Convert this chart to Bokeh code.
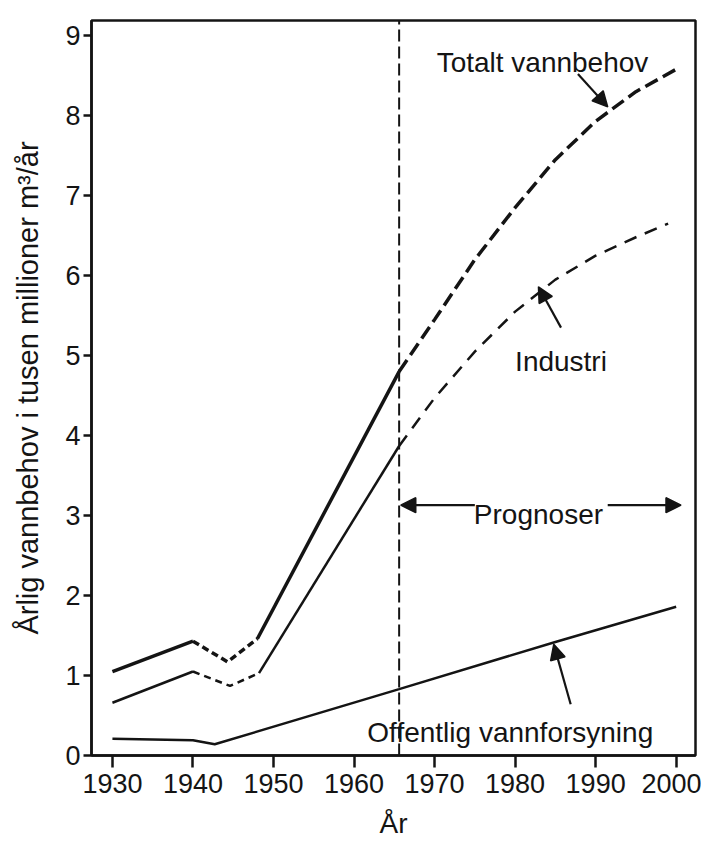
from bokeh.plotting import figure
from bokeh.models import Range1d, FixedTicker, Label, Arrow, NormalHead
from bokeh.embed import file_html
from bokeh.resources import INLINE

# ---------------- data ----------------
x_ticks = [1930, 1940, 1950, 1960, 1970, 1980, 1990, 2000]
y_ticks = [0, 1, 2, 3, 4, 5, 6, 7, 8, 9]

# Totalt vannbehov
total_years_a = [1930, 1940]
total_vals_a = [1.05, 1.43]
total_years_gap = [1940, 1944.3, 1948]
total_vals_gap = [1.43, 1.17, 1.46]
total_years_b = [1948, 1965.6]
total_vals_b = [1.46, 4.80]
total_years_prog = [1965.6, 1970, 1975, 1980, 1985, 1990, 1995, 2000]
total_vals_prog = [4.80, 5.45, 6.20, 6.85, 7.45, 7.93, 8.30, 8.58]

# Industri
ind_years_a = [1930, 1940]
ind_vals_a = [0.66, 1.05]
ind_years_gap = [1940, 1944.6, 1948.2]
ind_vals_gap = [1.05, 0.87, 1.03]
ind_years_b = [1948.2, 1965.6]
ind_vals_b = [1.03, 3.87]
ind_years_prog = [1965.6, 1970, 1975, 1980, 1985, 1990, 1995, 1999]
ind_vals_prog = [3.87, 4.47, 5.05, 5.55, 5.95, 6.25, 6.48, 6.65]

# Offentlig vannforsyning
off_years = [1930, 1940, 1942.7, 1965.6, 1985, 2000]
off_vals = [0.21, 0.19, 0.14, 0.83, 1.42, 1.86]

prognosis_start = 1965.6

FONT = "Liberation Sans"
INK = "#141414"

p = figure(width=701, height=841, output_backend="svg", toolbar_location=None,
           title=None,
           x_range=Range1d(1927.4, 2002.4), y_range=Range1d(0, 9.19),
           min_border_left=91, min_border_right=6, min_border_top=20,
           min_border_bottom=84)
p.background_fill_color = "white"
p.border_fill_color = "white"
p.xgrid.visible = False
p.ygrid.visible = False
p.outline_line_color = INK
p.outline_line_width = 2.5
p.outline_line_alpha = 1.0

for ax in (p.xaxis[0], p.yaxis[0]):
    ax.axis_line_color = INK
    ax.axis_line_width = 2.5
    ax.major_tick_line_color = INK
    ax.major_tick_line_width = 2.5
    ax.major_tick_in = 0
    ax.minor_tick_in = 0
    ax.minor_tick_out = 0
    ax.major_label_text_font = FONT
    ax.major_label_text_font_size = "27px"
    ax.major_label_text_color = INK
    ax.axis_label_text_font = FONT
    ax.axis_label_text_font_style = "normal"
    ax.axis_label_text_color = INK

p.xaxis.ticker = FixedTicker(ticks=x_ticks)
p.yaxis.ticker = FixedTicker(ticks=y_ticks)
p.xaxis.major_tick_out = 12
p.xaxis.major_label_standoff = 6
p.yaxis.major_tick_out = 8
p.yaxis.major_label_standoff = 3

p.yaxis.axis_label = "Årlig vannbehov i tusen millioner m³/år"
p.yaxis.axis_label_text_font_size = "29px"
p.yaxis.axis_label_standoff = 18

p.xaxis.axis_label = "År"
p.xaxis.axis_label_text_font_size = "28px"
p.xaxis.axis_label_text_line_height = 0.8
p.xaxis.axis_label_standoff = 12

# ---------------- lines ----------------
p.line(total_years_a, total_vals_a, line_color=INK, line_width=3.5)
p.line(total_years_gap, total_vals_gap, line_color=INK, line_width=3.5, line_dash="7 4")
p.line(total_years_b, total_vals_b, line_color=INK, line_width=3.5)
p.line(total_years_prog, total_vals_prog, line_color=INK, line_width=3.5, line_dash="14 6")

p.line(ind_years_a, ind_vals_a, line_color=INK, line_width=2.5)
p.line(ind_years_gap, ind_vals_gap, line_color=INK, line_width=2.5, line_dash="7 5")
p.line(ind_years_b, ind_vals_b, line_color=INK, line_width=2.5)
p.line(ind_years_prog, ind_vals_prog, line_color=INK, line_width=2.5, line_dash="13 9")

p.line(off_years, off_vals, line_color=INK, line_width=2.5)

# vertical prognosis line
p.line([prognosis_start, prognosis_start], [0, 9.19], line_color=INK, line_width=2, line_dash="12 5")

# ---------------- annotations ----------------
labels = [
    ("Totalt vannbehov", 1983.4, 8.67),
    ("Industri", 1985.7, 4.93),
    ("Prognoser", 1982.9, 3.01),
    ("Offentlig vannforsyning", 1979.4, 0.285),
]
for txt, lx, ly in labels:
    p.add_layout(Label(x=lx, y=ly, text=txt, text_font=FONT, text_font_size="28px",
                       text_color=INK, text_align="center", text_baseline="alphabetic"))

arrows = [
    (1987.8, 8.52, 1991.5, 8.11),
    (1985.7, 5.35, 1982.9, 5.86),
    (1986.9, 0.64, 1984.8, 1.39),
    (1975.0, 3.13, 1965.8, 3.13),
    (1991.5, 3.13, 2000.6, 3.13),
]
for xs, ys, xe, ye in arrows:
    p.add_layout(Arrow(end=NormalHead(size=15, fill_color=INK, line_color=INK, line_width=1.5),
                       x_start=xs, y_start=ys, x_end=xe, y_end=ye,
                       line_color=INK, line_width=2.2))

open("out.html", "w").write(file_html(p, INLINE))
